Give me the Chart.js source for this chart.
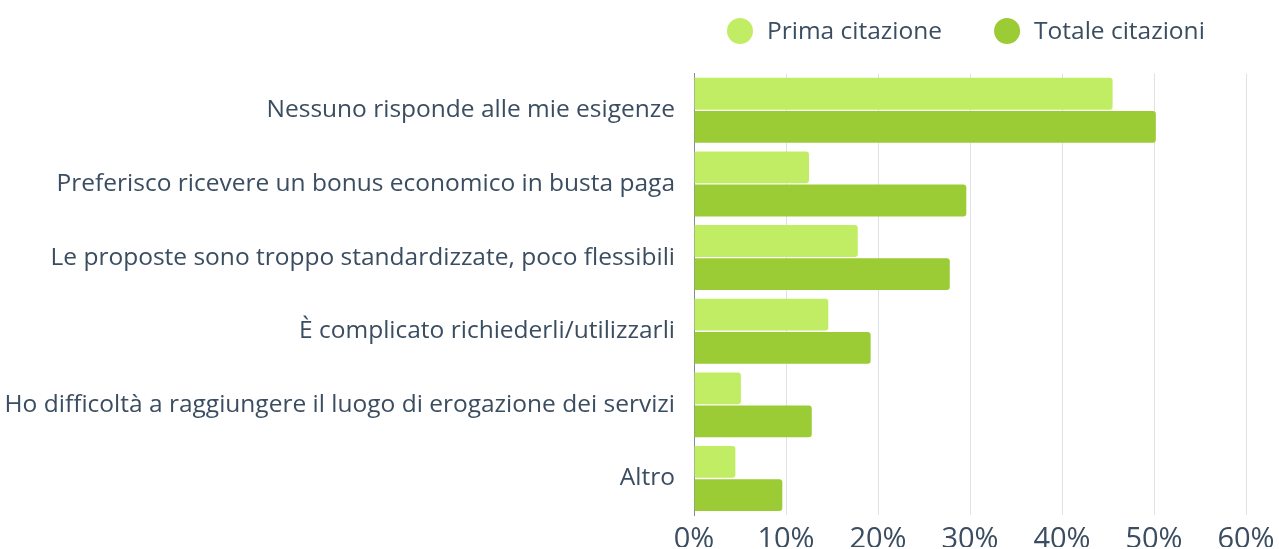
<!DOCTYPE html>
<html lang="it">
<head>
<meta charset="utf-8">
<title>Motivi di non utilizzo</title>
<script src="https://cdn.jsdelivr.net/npm/chart.js@4.4.1/dist/chart.umd.min.js"></script>
<style>
  html, body { margin: 0; padding: 0; background: #ffffff; }
  #wrap { position: relative; width: 1279px; height: 549px; }
</style>
</head>
<body>
<div id="wrap"><canvas id="chart"></canvas></div>
<script>
// Categories (reasons) and the two series, in percent
const categories = [
  'Nessuno risponde alle mie esigenze',
  'Preferisco ricevere un bonus economico in busta paga',
  'Le proposte sono troppo standardizzate, poco flessibili',
  'È complicato richiederli/utilizzarli',
  'Ho difficoltà a raggiungere il luogo di erogazione dei servizi',
  'Altro'
];
const seriesNames = ['Prima citazione', 'Totale citazioni'];
const primaCitazione = [45.5, 12.5, 17.8, 14.6, 5.1, 4.5];
const totaleCitazioni = [50.2, 29.6, 27.8, 19.2, 12.8, 9.6];
const xTicks = [0, 10, 20, 30, 40, 50, 60];

const FONT = '"Open Sans", Lato, sans-serif';
const TEXT = '#3b4d61';
const colors = ['#c1ed64', '#9bcb35'];

// Legend drawn above the plot area, with round markers
const roundLegend = {
  id: 'roundLegend',
  afterDraw(chart) {
    const { ctx, chartArea } = chart;
    const r = 13, gapText = 14, gapItems = 52;
    let x = chartArea.left + 33;
    const y = 31;
    ctx.save();
    ctx.font = '24.5px ' + FONT;
    ctx.textBaseline = 'middle';
    ctx.textAlign = 'left';
    chart.data.datasets.forEach((ds) => {
      ctx.fillStyle = ds.backgroundColor;
      ctx.beginPath();
      ctx.arc(x + r, y, r, 0, Math.PI * 2);
      ctx.fill();
      const tx = x + 2 * r + gapText;
      ctx.fillStyle = TEXT;
      ctx.fillText(ds.label, tx, y + 1);
      x = tx + ctx.measureText(ds.label).width + gapItems;
    });
    ctx.restore();
  }
};

new Chart(document.getElementById('chart'), {
  type: 'bar',
  data: {
    labels: categories,
    datasets: [
      { label: seriesNames[0], data: primaCitazione, backgroundColor: colors[0] },
      { label: seriesNames[1], data: totaleCitazioni, backgroundColor: colors[1] }
    ]
  },
  options: {
    indexAxis: 'y',
    responsive: true,
    maintainAspectRatio: false,
    animation: false,
    layout: { padding: { top: 73.5, right: 33, left: 0, bottom: 0 } },
    datasets: {
      bar: {
        categoryPercentage: 0.9,
        barPercentage: 0.96,
        borderRadius: 3,
        borderSkipped: 'start'
      }
    },
    scales: {
      x: {
        min: xTicks[0],
        max: xTicks[xTicks.length - 1],
        afterBuildTicks(scale) { scale.ticks = xTicks.map(v => ({ value: v })); },
        afterFit(scale) {
          scale.height = 31.7;
          // the right margin comes from the layout padding alone
          scale.paddingRight = 0;
          scale.paddingLeft = 0;
        },
        grid: { color: '#dde2e7', lineWidth: 1, drawTicks: false },
        border: { display: false },
        ticks: {
          padding: 7,
          color: TEXT,
          font: { family: FONT, size: 29 },
          callback: v => v + '%'
        }
      },
      y: {
        afterFit(scale) { scale.width = 694; },
        grid: { display: false, drawTicks: false },
        border: { display: true, color: '#7f8c9b', width: 1 },
        ticks: {
          padding: 19,
          color: TEXT,
          font: { family: FONT, size: 24.5 }
        }
      }
    },
    plugins: {
      legend: { display: false },
      tooltip: { enabled: false }
    }
  },
  plugins: [roundLegend]
});
</script>
</body>
</html>
